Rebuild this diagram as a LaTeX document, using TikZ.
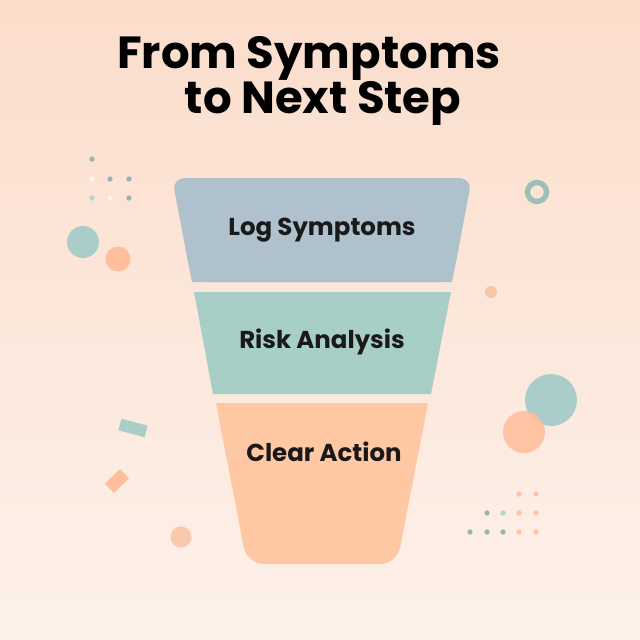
\documentclass[tikz,border=0pt]{standalone}
\usepackage{fontspec}
\setmainfont{Poppins}
\usetikzlibrary{shapes.geometric}
\definecolor{bgtop}{HTML}{FBDDCB}
\definecolor{bgbot}{HTML}{FDF1EA}
\definecolor{bandA}{HTML}{AFC1CD}
\definecolor{bandB}{HTML}{A7CFC6}
\definecolor{bandC}{HTML}{FFC8A5}
\definecolor{dgray}{HTML}{9DB2B4}
\definecolor{dteal}{HTML}{B4D4D0}
\definecolor{dwhite}{HTML}{FFF4EE}
\definecolor{dpeach}{HTML}{F8C5A8}
\definecolor{cteal}{HTML}{AACDCA}
\definecolor{cpeach}{HTML}{FFBF9C}
\definecolor{ring}{HTML}{9CC0B9}
\tikzset{
  title/.style={font=\fontsize{32}{38}\selectfont\bfseries, text=black, inner sep=0},
  lbl/.style={font=\fontsize{17.4}{20}\selectfont\bfseries, text=black!90, inner sep=0},
  dot/.style={circle, minimum size=3.8pt, inner sep=0, draw=none},
}
\begin{document}
\begin{tikzpicture}[x=0.025cm, y=-0.025cm]
\useasboundingbox (0,0) rectangle (640,640);
\shade[top color=bgtop, bottom color=bgbot] (0,0) rectangle (640,640);

% title
\node[title] (t1) at (309,58) {From Symptoms};
\node[title] (t2) at (323,103) {to Next Step};

% funnel band A
\fill[bandA, rounded corners=9pt] (172,178) -- (472,178) -- (452,282) -- (192,282) -- cycle;
\fill[bandA] (183.9,240) -- (460.1,240) -- (452,282) -- (192,282) -- cycle;
% band B
\fill[bandB] (194,292) -- (451,292) -- (431,394) -- (213,394) -- cycle;
% band C
\fill[bandC, rounded corners=12pt] (216,403) -- (428,403) -- (397,564) -- (247,564) -- cycle;
\fill[bandC] (216,403) -- (428,403) -- (419.9,445) -- (224.1,445) -- cycle;

\node[lbl] (l1) at (322,230) {Log Symptoms};
\node[lbl] (l2) at (322,342) {Risk Analysis};
\node[lbl] (l3) at (324,452) {Clear Action};

% top-left dots
\node[dot, fill=dgray] (d1) at (92,159) {};
\node[dot, fill=dwhite] (d2) at (92,179) {};
\node[dot, fill=dgray] (d3) at (110,179) {};
\node[dot, fill=dgray] (d4) at (129,179) {};
\node[dot, fill=dteal] (d5) at (92,198) {};
\node[dot, fill=dwhite] (d6) at (110,198) {};
\node[dot, fill=dgray] (d7) at (129,198) {};

% left circles
\fill[cteal] (83,242) circle[radius=16];
\fill[cpeach] (118,259) circle[radius=12.5];

% ring
\draw[ring, line width=3.8pt] (537,192) circle[radius=9.5];
\fill[dpeach] (491,292) circle[radius=6];

% right circles
\fill[cteal] (551,400) circle[radius=26];
\fill[cpeach, opacity=0.9] (524,432) circle[radius=21];

% rectangles
\fill[cteal, rotate around={-15:(133,428)}] (119.5,422) rectangle (146.5,434);
\fill[cpeach, rotate around={44:(117,481)}] (106.5,474.5) rectangle (127.5,487.5);
\fill[dpeach, opacity=0.9] (181,537) circle[radius=10.5];

% bottom-right dots
\node[dot, fill=dpeach] (e1) at (519,494) {};
\node[dot, fill=dpeach] (e2) at (536,494) {};
\node[dot, fill=dgray] (e3) at (487,513) {};
\node[dot, fill=dteal] (e4) at (503,513) {};
\node[dot, fill=dpeach] (e5) at (519,513) {};
\node[dot, fill=dpeach] (e6) at (536,513) {};
\node[dot, fill=dgray] (e7) at (470,532) {};
\node[dot, fill=dgray] (e8) at (487,532) {};
\node[dot, fill=dgray] (e9) at (503,532) {};
\node[dot, fill=dpeach] (e10) at (519,532) {};
\node[dot, fill=dpeach] (e11) at (536,532) {};
\end{tikzpicture}
\end{document}
